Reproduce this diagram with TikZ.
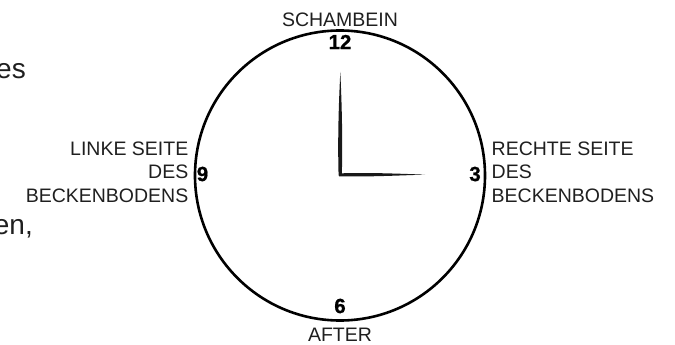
\documentclass[tikz,border=0pt]{standalone}
\usepackage{fontspec}
\setmainfont{Liberation Sans}
\newfontfamily\heavyfont{Liberation Sans Bold}[FakeBold=0.8]
\begin{document}
\begin{tikzpicture}[x=1pt,y=-1pt,
  lbl/.style={inner sep=0pt, font=\fontsize{19.5}{23.5}\selectfont, text=black!88},
  num/.style={inner sep=0pt, font=\fontsize{20.5}{22}\heavyfont},
  big/.style={inner sep=0pt, font=\fontsize{28}{32}\selectfont, text=black!88},
  hand/.style={fill=black!90, draw=none}]
\useasboundingbox (0,0) rectangle (675,345);
\node[draw, line width=2.6pt, circle, minimum size=290pt, inner sep=0pt] (dial) at (340,175.5) {};
\coordinate (c) at (340,175);
% hands
\fill[hand] (338.6,175.5) .. controls (337.4,135) and (339.2,95) .. (340.3,72)
  .. controls (341.4,95) and (342.9,135) .. (341.8,175.5) -- cycle;
\fill[hand] (339,173.4) .. controls (370,172.3) and (400,173.8) .. (425,174.6)
  .. controls (400,175.4) and (370,176.9) .. (339,176.4) -- cycle;
% numbers
\node[num] (n12) at (340,42) {12};
\node[num] (n3) at (475,174) {3};
\node[num] (n6) at (340,306) {6};
\node[num] (n9) at (202.5,174) {9};
% labels
\node[lbl] (top) at (340,19.5) {SCHAMBEIN};
\node[lbl] (bot) at (340,334.8) {AFTER};
\node[lbl, align=right, anchor=east] (left) at (188.5,172) {LINKE SEITE\\DES\\BECKENBODENS};
\node[lbl, align=left, anchor=west] (right) at (491.5,172) {RECHTE SEITE\\DES\\BECKENBODENS};
% cut-off body text
\node[big, anchor=base east] (t1) at (26,79) {es};
\node[big, anchor=base east] (t2) at (33,234) {en,};
\end{tikzpicture}
\end{document}
